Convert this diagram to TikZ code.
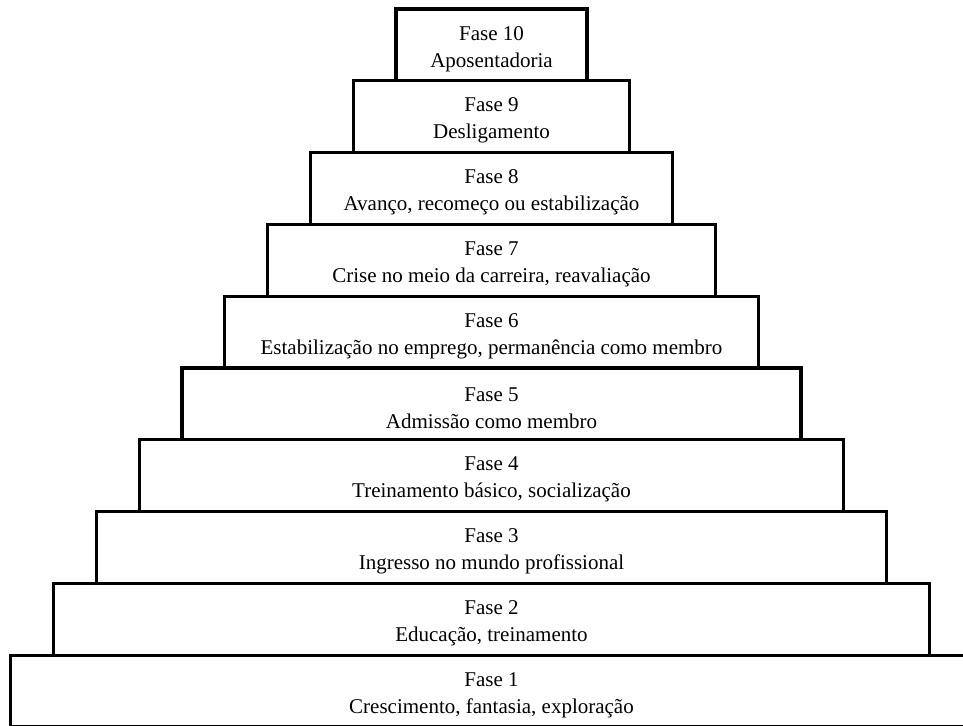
\documentclass[tikz,border=0pt]{standalone}
\usepackage{fontspec}
\setmainfont{Liberation Serif}
\tikzset{
  stepbox/.style={draw, line width=3.2pt, inner sep=0pt, minimum height=71.8pt},
  steptext/.style={align=center, inner sep=0pt,
    font=\fontsize{21pt}{27pt}\selectfont},
}
\begin{document}
\begin{tikzpicture}[x=1pt,y=-1pt]
\useasboundingbox (0,0) rectangle (963,725);
\foreach \k/\t in {1/{Crescimento, fantasia, exploração},
                   2/{Educação, treinamento},
                   3/{Ingresso no mundo profissional},
                   4/{Treinamento básico, socialização},
                   5/{Admissão como membro},
                   6/{Estabilização no emprego, permanência como membro},
                   7/{Crise no meio da carreira, reavaliação},
                   8/{Avanço, recomeço ou estabilização},
                   9/{Desligamento},
                   10/{Aposentadoria}} {
  \pgfmathsetmacro{\hw}{95.5+(10-\k)*42.8}
  \pgfmathsetmacro{\cy}{9+(10-\k)*71.8+35.9}
  \node[stepbox, minimum width=2*\hw pt] (f\k) at (491.5,\cy) {};
  \node[steptext] (t\k) at ([yshift=-4pt]f\k.center) {Fase \k\\\t};
}
\end{tikzpicture}
\end{document}
